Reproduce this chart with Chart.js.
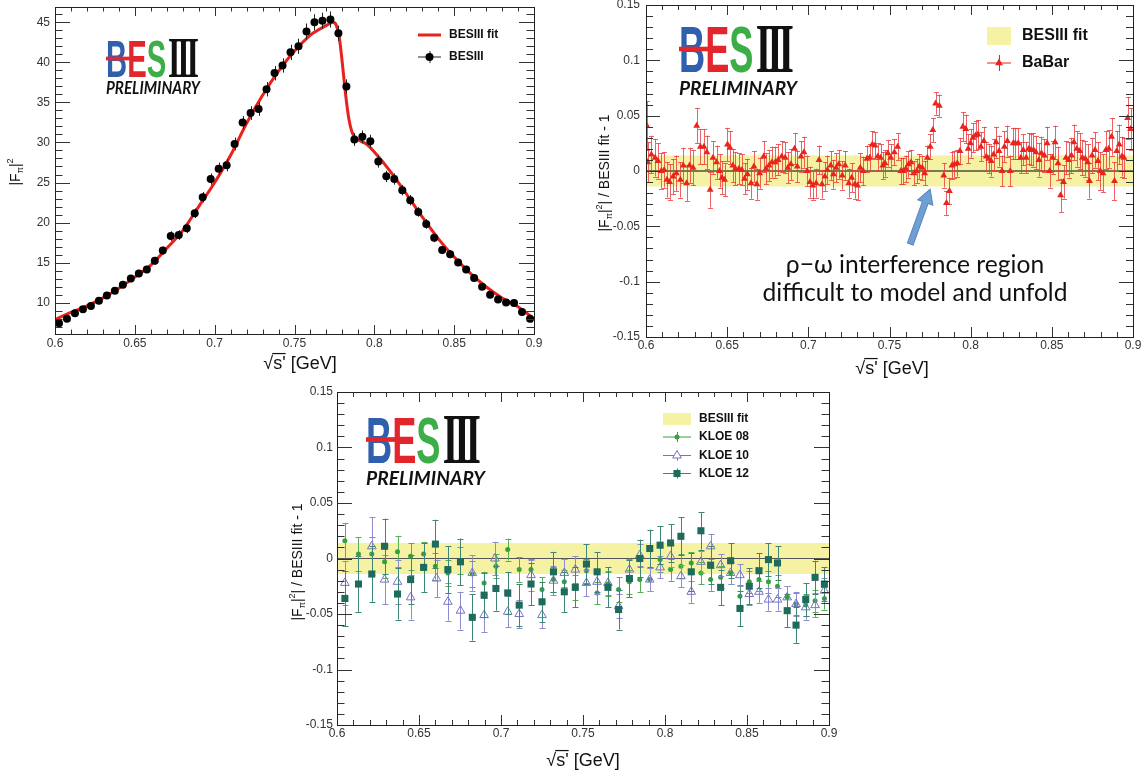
<!DOCTYPE html>
<html>
<head>
<meta charset="utf-8">
<script src="https://cdn.jsdelivr.net/npm/chart.js@4.4.1/dist/chart.umd.min.js"></script>
<style>
  html, body { margin: 0; padding: 0; background: #fff; }
  body { width: 1148px; height: 771px; position: relative; overflow: hidden; }
  canvas { position: absolute; }
</style>
</head>
<body>
<canvas id="cFF" width="550" height="380" style="left:0;top:0"></canvas>
<canvas id="cBaBar" width="588" height="380" style="left:560px;top:0"></canvas>
<canvas id="cKloe" width="580" height="391" style="left:270px;top:380px"></canvas>
<script>
// ---- data ----
// top left: |F_pi|^2 from BESIII, bin centres in GeV
const besX = [0.6025, 0.6075, 0.6125, 0.6175, 0.6225, 0.6275, 0.6325, 0.6375, 0.6425, 0.6475,
              0.6525, 0.6575, 0.6625, 0.6675, 0.6725, 0.6775, 0.6825, 0.6875, 0.6925, 0.6975,
              0.7025, 0.7075, 0.7125, 0.7175, 0.7225, 0.7275, 0.7325, 0.7375, 0.7425, 0.7475,
              0.7525, 0.7575, 0.7625, 0.7675, 0.7725, 0.7775, 0.7825, 0.7875, 0.7925, 0.7975,
              0.8025, 0.8075, 0.8125, 0.8175, 0.8225, 0.8275, 0.8325, 0.8375, 0.8425, 0.8475,
              0.8525, 0.8575, 0.8625, 0.8675, 0.8725, 0.8775, 0.8825, 0.8875, 0.8925, 0.8975];
const besY = [7.45, 8.0, 8.7, 9.2, 9.6, 10.25, 10.9, 11.5, 12.25, 13.01,
              13.64, 14.14, 15.23, 16.52, 18.32, 18.45, 19.28, 21.17, 23.17, 25.43,
              26.73, 27.15, 29.82, 32.5, 33.67, 34.17, 36.64, 38.65, 39.61, 41.24,
              42.0, 43.84, 45.0, 45.2, 45.34, 43.63, 36.98, 30.37, 30.7, 30.16,
              27.61, 25.77, 25.43, 24.05, 22.8, 21.33, 19.83, 18.11, 16.57, 16.06,
              15.02, 14.14, 13.09, 12.0, 11.0, 10.4, 10.04, 9.96, 8.84, 8.0];
const besErr = [0.35, 0.35, 0.35, 0.35, 0.35, 0.4, 0.4, 0.4, 0.4, 0.45,
                0.45, 0.45, 0.5, 0.5, 0.6, 0.6, 0.6, 0.6, 0.65, 0.7,
                0.75, 0.75, 0.8, 0.8, 0.85, 0.85, 0.9, 0.9, 0.9, 0.95,
                0.95, 1.0, 1.0, 1.0, 1.0, 0.95, 0.9, 0.8, 0.8, 0.8,
                0.75, 0.7, 0.7, 0.65, 0.65, 0.6, 0.6, 0.55, 0.5, 0.5,
                0.45, 0.45, 0.45, 0.4, 0.4, 0.4, 0.4, 0.4, 0.35, 0.35];
// red fit curve
const fitX = [0.600, 0.610, 0.620, 0.630, 0.640, 0.650, 0.660, 0.670, 0.680, 0.690,
              0.700, 0.710, 0.720, 0.730, 0.740, 0.750, 0.760, 0.770, 0.774, 0.776,
              0.778, 0.780, 0.782, 0.784, 0.786, 0.788, 0.790, 0.795, 0.800, 0.810,
              0.820, 0.830, 0.840, 0.850, 0.860, 0.870, 0.880, 0.890, 0.900];
const fitY = [7.9, 8.8, 9.6, 10.6, 11.8, 13.2, 14.7, 16.8, 19.0, 22.0,
              25.0, 28.4, 32.4, 35.9, 38.9, 41.4, 43.4, 44.6, 45.0, 44.7,
              43.2, 39.8, 36.0, 33.0, 31.3, 30.6, 30.3, 29.8, 28.8, 26.4,
              23.6, 20.7, 18.0, 15.7, 13.7, 12.0, 10.6, 9.5, 8.0];

// top right: BaBar / BESIII fit - 1, as [x, y, error]
const babarPts = [
  [0.6005, 0.041, 0.022], [0.6011, 0.008, 0.018], [0.6033, 0.015, 0.017], [0.6056, 0.012, 0.017],
  [0.6074, 0.009, 0.016], [0.6094, 0.000, 0.016], [0.6112, 0.001, 0.016], [0.6129, -0.008, 0.016],
  [0.6145, -0.010, 0.016], [0.6167, -0.005, 0.016], [0.6187, -0.002, 0.016], [0.6212, -0.008, 0.016],
  [0.6230, 0.005, 0.016], [0.6250, -0.011, 0.016], [0.6268, 0.005, 0.016], [0.6290, 0.003, 0.016],
  [0.6312, 0.041, 0.016], [0.6335, 0.022, 0.016], [0.6357, 0.022, 0.016], [0.6375, 0.017, 0.015],
  [0.6395, -0.017, 0.016], [0.6413, 0.012, 0.015], [0.6435, 0.008, 0.015], [0.6453, 0.000, 0.015],
  [0.6468, -0.006, 0.015], [0.6484, -0.008, 0.015], [0.6502, 0.024, 0.015], [0.6517, 0.021, 0.015],
  [0.6535, 0.005, 0.015], [0.6551, 0.002, 0.015], [0.6573, 0.002, 0.014], [0.6591, 0.001, 0.014],
  [0.6607, -0.007, 0.014], [0.6625, -0.003, 0.014], [0.6647, -0.011, 0.014], [0.6665, 0.004, 0.014],
  [0.6683, -0.012, 0.014], [0.6700, -0.002, 0.014], [0.6725, 0.013, 0.014], [0.6740, 0.002, 0.014],
  [0.6758, 0.005, 0.014], [0.6776, 0.008, 0.014], [0.6796, 0.008, 0.014], [0.6814, 0.010, 0.014],
  [0.6836, 0.013, 0.014], [0.6857, 0.012, 0.014], [0.6874, 0.003, 0.014], [0.6892, 0.006, 0.014],
  [0.6915, 0.020, 0.014], [0.6932, 0.004, 0.014], [0.6955, 0.013, 0.014], [0.6973, 0.017, 0.014],
  [0.6993, 0.000, 0.014], [0.7010, -0.010, 0.014], [0.7028, -0.013, 0.013], [0.7048, -0.011, 0.013],
  [0.7066, 0.010, 0.013], [0.7084, -0.012, 0.013], [0.7102, -0.005, 0.013], [0.7117, 0.001, 0.013],
  [0.7138, 0.005, 0.013], [0.7155, -0.003, 0.013], [0.7171, 0.003, 0.013], [0.7187, 0.006, 0.013],
  [0.7209, -0.004, 0.013], [0.7227, 0.005, 0.013], [0.7249, -0.011, 0.013], [0.7267, -0.006, 0.013],
  [0.7287, -0.012, 0.013], [0.7303, -0.013, 0.013], [0.7320, 0.003, 0.013], [0.7338, 0.000, 0.013],
  [0.7361, 0.011, 0.012], [0.7378, 0.012, 0.012], [0.7394, 0.024, 0.012], [0.7410, 0.023, 0.012],
  [0.7428, 0.013, 0.012], [0.7445, 0.012, 0.012], [0.7459, 0.005, 0.012], [0.7472, 0.007, 0.012],
  [0.7490, 0.016, 0.012], [0.7508, 0.012, 0.012], [0.7530, 0.017, 0.012], [0.7550, 0.022, 0.012],
  [0.7570, 0.000, 0.012], [0.7584, 0.000, 0.012], [0.7601, 0.002, 0.012], [0.7617, 0.006, 0.012],
  [0.7633, 0.008, 0.011], [0.7651, -0.002, 0.011], [0.7668, 0.000, 0.011], [0.7684, 0.004, 0.011],
  [0.7702, 0.003, 0.011], [0.7717, -0.002, 0.011], [0.7733, 0.012, 0.011], [0.7751, 0.022, 0.011],
  [0.7767, 0.037, 0.011], [0.7784, 0.061, 0.010], [0.7807, 0.059, 0.010], [0.7834, -0.004, 0.011],
  [0.7851, -0.029, 0.011], [0.7869, -0.018, 0.012], [0.7885, 0.005, 0.012], [0.7900, 0.006, 0.012],
  [0.7918, 0.007, 0.012], [0.7934, 0.018, 0.012], [0.7952, 0.040, 0.013], [0.7970, 0.038, 0.013],
  [0.7985, 0.020, 0.013], [0.7999, 0.025, 0.013], [0.8014, 0.030, 0.013], [0.8030, 0.032, 0.013],
  [0.8045, 0.033, 0.013], [0.8063, 0.022, 0.013], [0.8081, 0.027, 0.013], [0.8097, 0.013, 0.013],
  [0.8112, 0.011, 0.013], [0.8126, 0.009, 0.014], [0.8141, 0.015, 0.014], [0.8157, 0.026, 0.014],
  [0.8175, 0.018, 0.014], [0.8193, 0.000, 0.014], [0.8208, 0.022, 0.014], [0.8226, 0.027, 0.014],
  [0.8244, 0.000, 0.014], [0.8262, 0.025, 0.014], [0.8275, 0.025, 0.014], [0.8293, 0.025, 0.014],
  [0.8309, 0.012, 0.014], [0.8324, 0.019, 0.014], [0.8342, 0.012, 0.014], [0.8358, 0.020, 0.014],
  [0.8371, 0.019, 0.014], [0.8387, 0.019, 0.015], [0.8402, 0.017, 0.015], [0.8420, 0.010, 0.015],
  [0.8436, 0.016, 0.015], [0.8454, 0.014, 0.015], [0.8471, 0.025, 0.015], [0.8487, 0.000, 0.015],
  [0.8505, 0.012, 0.015], [0.8520, 0.026, 0.015], [0.8538, 0.007, 0.015], [0.8554, -0.022, 0.015],
  [0.8572, -0.010, 0.015], [0.8587, 0.012, 0.015], [0.8603, 0.010, 0.016], [0.8621, 0.014, 0.016],
  [0.8636, 0.026, 0.016], [0.8654, 0.020, 0.016], [0.8672, 0.018, 0.016], [0.8688, 0.012, 0.016],
  [0.8706, 0.011, 0.016], [0.8721, 0.008, 0.016], [0.8732, -0.009, 0.016], [0.8748, 0.014, 0.016],
  [0.8766, 0.019, 0.016], [0.8784, 0.009, 0.017], [0.8799, 0.000, 0.017], [0.8815, -0.002, 0.017],
  [0.8833, 0.019, 0.017], [0.8851, 0.020, 0.017], [0.8868, 0.031, 0.017], [0.8886, -0.009, 0.017],
  [0.8900, 0.018, 0.018], [0.8915, 0.024, 0.018], [0.8931, 0.013, 0.018], [0.8944, 0.012, 0.018],
  [0.8967, 0.048, 0.019], [0.8985, 0.038, 0.019]
];

// bottom: KLOE / BESIII fit - 1, as [x, y, error]
const kloe08Pts = [
  [0.6048, 0.016, 0.016], [0.6131, 0.004, 0.015], [0.6212, 0.004, 0.015], [0.6290, -0.003, 0.015],
  [0.6369, 0.006, 0.014], [0.6449, 0.002, 0.012], [0.6528, 0.004, 0.011], [0.6600, -0.007, 0.012],
  [0.6676, -0.013, 0.012], [0.6753, -0.002, 0.012], [0.6825, -0.014, 0.012], [0.6897, -0.022, 0.010],
  [0.6969, -0.007, 0.011], [0.7041, 0.008, 0.010], [0.7111, -0.010, 0.011], [0.7183, -0.010, 0.010],
  [0.7250, -0.028, 0.011], [0.7320, -0.019, 0.011], [0.7386, -0.021, 0.011], [0.7453, -0.026, 0.011],
  [0.7521, -0.011, 0.011], [0.7586, -0.031, 0.010], [0.7652, -0.023, 0.011], [0.7717, -0.028, 0.011],
  [0.7783, -0.021, 0.011], [0.7846, -0.019, 0.011], [0.7907, -0.019, 0.010], [0.7970, -0.001, 0.011],
  [0.8034, -0.010, 0.010], [0.8097, -0.007, 0.011], [0.8160, -0.004, 0.010], [0.8219, -0.013, 0.010],
  [0.8278, -0.019, 0.010], [0.8339, -0.017, 0.010], [0.8400, -0.013, 0.010], [0.8457, -0.034, 0.010],
  [0.8514, -0.021, 0.010], [0.8573, -0.019, 0.010], [0.8631, -0.021, 0.010], [0.8686, -0.025, 0.010],
  [0.8745, -0.035, 0.010], [0.8799, -0.041, 0.010], [0.8858, -0.042, 0.010], [0.8915, -0.038, 0.010],
  [0.8972, -0.036, 0.010]
];
const kloe10Pts = [
  [0.6048, -0.022, 0.020], [0.6212, 0.011, 0.026], [0.6290, -0.019, 0.022], [0.6369, -0.021, 0.020],
  [0.6449, -0.035, 0.020], [0.6607, -0.018, 0.017], [0.6676, -0.039, 0.017], [0.6753, -0.047, 0.017],
  [0.6825, -0.013, 0.016], [0.6897, -0.051, 0.015], [0.6963, 0.000, 0.015], [0.7041, -0.048, 0.014],
  [0.7111, -0.050, 0.013], [0.7183, -0.015, 0.014], [0.7250, -0.051, 0.012], [0.7320, -0.020, 0.013],
  [0.7386, -0.013, 0.013], [0.7453, -0.010, 0.012], [0.7521, -0.022, 0.012], [0.7586, -0.021, 0.011],
  [0.7652, -0.022, 0.011], [0.7717, -0.043, 0.011], [0.7783, -0.010, 0.010], [0.7846, 0.003, 0.010],
  [0.7907, -0.019, 0.010], [0.7970, -0.008, 0.010], [0.8034, 0.002, 0.010], [0.8097, -0.016, 0.010],
  [0.8160, -0.030, 0.010], [0.8219, -0.003, 0.010], [0.8278, 0.011, 0.011], [0.8339, -0.006, 0.010],
  [0.8400, -0.013, 0.010], [0.8457, -0.015, 0.010], [0.8514, -0.032, 0.010], [0.8573, -0.030, 0.010],
  [0.8631, -0.037, 0.010], [0.8686, -0.037, 0.010], [0.8745, -0.035, 0.010], [0.8799, -0.041, 0.011],
  [0.8858, -0.044, 0.011], [0.8915, -0.042, 0.011], [0.8972, -0.029, 0.011]
];
const kloe12Pts = [
  [0.6048, -0.036, 0.025], [0.6131, -0.023, 0.025], [0.6212, -0.014, 0.025], [0.6290, 0.011, 0.025],
  [0.6369, -0.032, 0.023], [0.6449, -0.019, 0.022], [0.6528, -0.008, 0.022], [0.6600, 0.013, 0.022],
  [0.6676, -0.010, 0.021], [0.6753, -0.003, 0.021], [0.6825, -0.053, 0.021], [0.6897, -0.033, 0.020],
  [0.6969, -0.027, 0.020], [0.7041, -0.031, 0.019], [0.7111, -0.042, 0.019], [0.7183, -0.023, 0.019],
  [0.7250, -0.039, 0.018], [0.7320, -0.012, 0.018], [0.7386, -0.030, 0.018], [0.7453, -0.026, 0.018],
  [0.7521, -0.005, 0.018], [0.7586, -0.012, 0.018], [0.7652, -0.026, 0.018], [0.7717, -0.046, 0.018],
  [0.7783, -0.018, 0.017], [0.7846, 0.000, 0.017], [0.7907, 0.009, 0.017], [0.7970, 0.012, 0.017],
  [0.8034, 0.014, 0.017], [0.8097, 0.020, 0.017], [0.8160, -0.012, 0.017], [0.8219, 0.025, 0.017],
  [0.8278, -0.006, 0.017], [0.8339, -0.026, 0.016], [0.8400, -0.002, 0.016], [0.8457, -0.045, 0.016],
  [0.8514, -0.025, 0.016], [0.8573, -0.011, 0.016], [0.8631, -0.001, 0.015], [0.8686, -0.004, 0.015],
  [0.8745, -0.047, 0.015], [0.8799, -0.060, 0.016], [0.8858, -0.037, 0.015], [0.8915, -0.017, 0.015],
  [0.8972, -0.023, 0.015]
];

// yellow BESIII fit uncertainty band and the zero line
const bandX = [0.6, 0.9];
const bandHalf = 0.014;
const zeroY = 0;

// arrow in the BaBar panel (data coordinates)
const arrowFrom = { x: 0.7628, y: -0.066 };
const arrowTo = { x: 0.775, y: -0.0165 };

const FONT = '"Liberation Sans", Arial, sans-serif';
Chart.defaults.font.family = FONT;

const triples = pts => pts.map(p => ({ x: p[0], y: p[1], e: p[2] }));
const fmt = v => String(+Number(v).toFixed(3));

// ---- drawing helpers ----
function drawRich(ctx, parts, cx, cy, size, rotate) {
  ctx.save();
  ctx.translate(cx, cy);
  if (rotate) ctx.rotate(-Math.PI / 2);
  const fontOf = p => ((p.sub || p.sup) ? Math.round(size * 0.65) : size) + 'px ' + FONT;
  let total = 0;
  parts.forEach(p => { ctx.font = fontOf(p); p.w = ctx.measureText(p.t).width; total += p.w; });
  let xx = -total / 2;
  ctx.textBaseline = 'middle';
  ctx.textAlign = 'left';
  ctx.fillStyle = '#111';
  ctx.strokeStyle = '#111';
  parts.forEach(p => {
    ctx.font = fontOf(p);
    const dy = p.sub ? size * 0.35 : (p.sup ? -size * 0.38 : 0);
    ctx.fillText(p.t, xx, dy);
    if (p.over) {
      ctx.lineWidth = 1.2;
      ctx.beginPath();
      ctx.moveTo(xx - 1, -size * 0.58);
      ctx.lineTo(xx + p.w, -size * 0.58);
      ctx.stroke();
    }
    xx += p.w;
  });
  ctx.restore();
}

function drawLogo(ctx, lg) {
  const segs = [
    { t: 'B', c: '#2f5fad', f: 'bold 64px ' + FONT },
    { t: 'E', c: '#e3262b', f: 'bold 64px ' + FONT },
    { t: 'S', c: '#3cae47', f: 'bold 64px ' + FONT },
    { t: 'III', c: '#111', f: 'bold 70px "Liberation Serif", serif', ls: -7 }
  ];
  let total = 0, capH = 0;
  segs.forEach(s => {
    ctx.font = s.f;
    const m = ctx.measureText(s.t);
    s.cw = ctx.measureText('I').width;
    s.w = m.width + (s.ls ? s.ls * (s.t.length - 1) : 0);
    s.a = m.actualBoundingBoxAscent;
    total += s.w;
    capH = Math.max(capH, s.a);
  });
  total += 4;
  ctx.save();
  ctx.translate(lg.x, lg.y + lg.h);
  ctx.scale(lg.w / total, lg.h / capH);
  ctx.textBaseline = 'alphabetic';
  ctx.textAlign = 'left';
  let xx = 0;
  segs.forEach((s, i) => {
    ctx.font = s.f;
    ctx.fillStyle = s.c;
    if (i === 3) xx += 4;
    if (s.ls) {
      for (let k = 0; k < s.t.length; k++) ctx.fillText(s.t[k], xx + k * (s.cw + s.ls), 0);
    } else {
      ctx.fillText(s.t, xx, 0);
    }
    xx += s.w;
  });
  ctx.fillStyle = '#e3262b';
  ctx.fillRect(0, -capH * 0.55, segs[0].w + segs[1].w * 0.75, capH * 0.1);
  ctx.restore();

  // PRELIMINARY below
  ctx.save();
  ctx.font = 'italic bold 20px Lato, ' + FONT;
  const m = ctx.measureText('PRELIMINARY');
  ctx.translate(lg.px, lg.py + lg.ph);
  ctx.scale(lg.pw / m.width, lg.ph / m.actualBoundingBoxAscent);
  ctx.fillStyle = '#111';
  ctx.textBaseline = 'alphabetic';
  ctx.fillText('PRELIMINARY', 0, 0);
  ctx.restore();
}

function drawLegend(ctx, L) {
  ctx.save();
  L.items.forEach(it => {
    const mid = (L.x0 + L.x1) / 2;
    if (it.box) {
      ctx.fillStyle = it.box;
      ctx.fillRect(L.x0, it.y - it.h / 2, L.x1 - L.x0, it.h);
    }
    if (it.line) {
      ctx.strokeStyle = it.line;
      ctx.lineWidth = it.lw || 1;
      ctx.beginPath();
      ctx.moveTo(L.x0, it.y);
      ctx.lineTo(L.x1, it.y);
      ctx.stroke();
    }
    if (it.err) {
      ctx.strokeStyle = it.line;
      ctx.lineWidth = 1;
      ctx.beginPath();
      ctx.moveTo(mid + 0.5, it.y - it.err);
      ctx.lineTo(mid + 0.5, it.y + it.err);
      ctx.stroke();
    }
    if (it.point) {
      ctx.fillStyle = it.point.bg;
      ctx.strokeStyle = it.point.border;
      ctx.lineWidth = it.point.borderWidth || 1;
      Chart.helpers.drawPoint(ctx, it.point, mid, it.y);
    }
    ctx.fillStyle = '#111';
    ctx.font = 'bold ' + L.size + 'px ' + FONT;
    ctx.textBaseline = 'middle';
    ctx.textAlign = 'left';
    ctx.fillText(it.label, L.tx, it.y);
  });
  ctx.restore();
}

// ROOT-like frame with inward ticks on all four sides
const rootFrame = {
  id: 'rootFrame',
  afterDatasetsDraw(chart, args, o) {
    const { ctx, chartArea: a } = chart;
    const xs = chart.scales.x, ys = chart.scales.y;
    ctx.save();
    ctx.strokeStyle = '#333';
    ctx.lineWidth = 1;
    const run = (scale, minor, major, cb) => {
      const start = Math.ceil(scale.min / minor - 1e-6);
      const end = Math.floor(scale.max / minor + 1e-6);
      for (let i = start; i <= end; i++) {
        const v = i * minor;
        const r = v / major;
        cb(Math.round(scale.getPixelForValue(v)) + 0.5, Math.abs(r - Math.round(r)) < 1e-6);
      }
    };
    ctx.beginPath();
    run(xs, o.xMinor, o.xMajor, (px, maj) => {
      const l = maj ? o.xLen : o.xLen / 2;
      ctx.moveTo(px, a.bottom); ctx.lineTo(px, a.bottom - l);
      ctx.moveTo(px, a.top); ctx.lineTo(px, a.top + l);
    });
    run(ys, o.yMinor, o.yMajor, (py, maj) => {
      const l = maj ? o.yLen : o.yLen / 2;
      ctx.moveTo(a.left, py); ctx.lineTo(a.left + l, py);
      ctx.moveTo(a.right, py); ctx.lineTo(a.right - l, py);
    });
    ctx.stroke();
    ctx.strokeStyle = '#222';
    ctx.strokeRect(Math.round(a.left) + 0.5, Math.round(a.top) + 0.5,
                   Math.round(a.right - a.left), Math.round(a.bottom - a.top));
    ctx.restore();
  }
};

// vertical error bars, drawn just before each point dataset
const errBars = {
  id: 'errBars',
  beforeDatasetDraw(chart, args) {
    const ds = chart.data.datasets[args.index];
    if (!ds.errColor) return;
    const { ctx, chartArea: a } = chart;
    const xs = chart.scales.x, ys = chart.scales.y;
    ctx.save();
    ctx.beginPath();
    ctx.rect(a.left, a.top, a.right - a.left, a.bottom - a.top);
    ctx.clip();
    ctx.strokeStyle = ds.errColor;
    ctx.lineWidth = 1;
    ctx.beginPath();
    ds.data.forEach(p => {
      const px = Math.round(xs.getPixelForValue(p.x)) + 0.5;
      const y1 = ys.getPixelForValue(p.y - p.e);
      const y2 = ys.getPixelForValue(p.y + p.e);
      ctx.moveTo(px, y1); ctx.lineTo(px, y2);
      if (ds.cap) {
        ctx.moveTo(px - ds.cap, Math.round(y1) + 0.5); ctx.lineTo(px + ds.cap, Math.round(y1) + 0.5);
        ctx.moveTo(px - ds.cap, Math.round(y2) + 0.5); ctx.lineTo(px + ds.cap, Math.round(y2) + 0.5);
      }
    });
    ctx.stroke();
    ctx.restore();
  }
};

// titles, logo, legend, annotation
const decor = {
  id: 'decor',
  afterDraw(chart, args, o) {
    const ctx = chart.ctx;
    if (o.logo) drawLogo(ctx, o.logo);
    if (o.legend) drawLegend(ctx, o.legend);
    drawRich(ctx, [{ t: '\u221A' }, { t: "s'", over: true }, { t: ' [GeV]' }], o.xt.x, o.xt.y, 18, false);
    drawRich(ctx, o.yt.parts, o.yt.x, o.yt.y, 14, true);
    if (o.anno) {
      const xs = chart.scales.x, ys = chart.scales.y;
      const x0 = xs.getPixelForValue(arrowFrom.x), y0 = ys.getPixelForValue(arrowFrom.y);
      const x1 = xs.getPixelForValue(arrowTo.x), y1 = ys.getPixelForValue(arrowTo.y);
      const ang = Math.atan2(y1 - y0, x1 - x0);
      const len = Math.hypot(x1 - x0, y1 - y0);
      ctx.save();
      ctx.translate(x0, y0);
      ctx.rotate(ang);
      ctx.beginPath();
      ctx.moveTo(0, -3);
      ctx.lineTo(len - 14, -3);
      ctx.lineTo(len - 14, -8);
      ctx.lineTo(len, 0);
      ctx.lineTo(len - 14, 8);
      ctx.lineTo(len - 14, 3);
      ctx.lineTo(0, 3);
      ctx.closePath();
      ctx.fillStyle = '#6f9fd4';
      ctx.fill();
      ctx.strokeStyle = '#5585bd';
      ctx.lineWidth = 1;
      ctx.stroke();
      ctx.restore();

      ctx.save();
      ctx.fillStyle = '#111';
      ctx.textAlign = 'center';
      ctx.textBaseline = 'alphabetic';
      ctx.font = '22px Lato, ' + FONT;
      const w2 = ctx.measureText(o.anno.lines[1]).width;
      const size = 22 * o.anno.w2 / w2;
      ctx.font = size.toFixed(2) + 'px Lato, ' + FONT;
      ctx.fillText(o.anno.lines[0], o.anno.cx, o.anno.b1);
      ctx.fillText(o.anno.lines[1], o.anno.cx, o.anno.b2);
      ctx.restore();
    }
  }
};

function scalesFor(cfg) {
  return {
    x: {
      type: 'linear', min: 0.6, max: 0.9,
      grid: { display: false, drawTicks: false }, border: { display: false },
      ticks: { stepSize: 0.05, padding: cfg.xPad, autoSkip: false, maxRotation: 0,
               color: '#333', font: { size: 12 }, callback: fmt },
      afterFit(s) { s.height = cfg.xH; s.paddingLeft = 0; s.paddingRight = 0; }
    },
    y: {
      type: 'linear', min: cfg.yMin, max: cfg.yMax,
      grid: { display: false, drawTicks: false }, border: { display: false },
      ticks: { stepSize: cfg.yStep, padding: cfg.yPad, includeBounds: false,
               color: '#333', font: { size: 12 }, callback: fmt },
      afterFit(s) { s.width = cfg.yW; s.paddingTop = 0; s.paddingBottom = 0; }
    }
  };
}

const common = {
  responsive: false, maintainAspectRatio: false, animation: false,
  devicePixelRatio: 1, events: []
};

const yTitleRatio = [{ t: '|F' }, { t: '\u03C0', sub: true }, { t: '|' }, { t: '2', sup: true },
                     { t: '| / BESIII fit - 1' }];

// ---- top left: |F_pi|^2 ----
new Chart(document.getElementById('cFF'), {
  type: 'scatter',
  data: {
    datasets: [
      {
        label: 'BESIII',
        data: besX.map((x, i) => ({ x: x, y: besY[i], e: besErr[i] })),
        pointStyle: 'circle', pointRadius: 4, backgroundColor: '#000', borderWidth: 0,
        errColor: '#222', order: 1
      },
      {
        label: 'BESIII fit',
        data: fitX.map((x, i) => ({ x: x, y: fitY[i] })),
        showLine: true, pointRadius: 0, borderColor: '#e8211c', borderWidth: 3,
        cubicInterpolationMode: 'monotone', order: 2
      }
    ]
  },
  options: Object.assign({}, common, {
    layout: { padding: { left: 0, top: 7, right: 16, bottom: 0 } },
    scales: scalesFor({ xPad: 2, xH: 46, yMin: 6.1, yMax: 46.9, yStep: 5, yPad: 5, yW: 55 }),
    plugins: {
      legend: { display: false }, tooltip: { enabled: false },
      rootFrame: { xMinor: 0.01, xMajor: 0.05, xLen: 9, yMinor: 1, yMajor: 5, yLen: 15 },
      decor: {
        logo: { x: 106, y: 40, w: 93, h: 37, px: 106, py: 81, pw: 94, ph: 12.5 },
        legend: {
          x0: 418, x1: 441, tx: 449, size: 12,
          items: [
            { label: 'BESIII fit', y: 35, line: '#e8211c', lw: 3 },
            { label: 'BESIII', y: 57, line: '#222', err: 6,
              point: { pointStyle: 'circle', radius: 4, bg: '#000', border: '#000', borderWidth: 0 } }
          ]
        },
        xt: { x: 300, y: 364 },
        yt: { x: 16, y: 172, parts: [{ t: '|F' }, { t: '\u03C0', sub: true }, { t: '|' }, { t: '2', sup: true }] }
      }
    }
  }),
  plugins: [errBars, rootFrame, decor]
});

// ---- top right: BaBar ratio ----
new Chart(document.getElementById('cBaBar'), {
  type: 'scatter',
  data: {
    datasets: [
      {
        label: 'BaBar', data: triples(babarPts),
        pointStyle: 'triangle', pointRadius: 4, backgroundColor: '#e8241f', borderWidth: 0,
        errColor: 'rgba(232,60,60,0.8)', cap: 2.5, order: 1
      },
      {
        label: 'zero', data: bandX.map(x => ({ x: x, y: zeroY })),
        showLine: true, pointRadius: 0, borderColor: '#000', borderWidth: 1, order: 4
      },
      {
        label: 'BESIII fit', data: bandX.map(x => ({ x: x, y: bandHalf })),
        showLine: true, pointRadius: 0, borderWidth: 0, fill: '+1',
        backgroundColor: '#f5f2a3', order: 5
      },
      {
        label: 'band low', data: bandX.map(x => ({ x: x, y: -bandHalf })),
        showLine: true, pointRadius: 0, borderWidth: 0, fill: false, order: 5
      }
    ]
  },
  options: Object.assign({}, common, {
    layout: { padding: { left: 0, top: 5, right: 15, bottom: 0 } },
    scales: scalesFor({ xPad: 1, xH: 43, yMin: -0.15, yMax: 0.15, yStep: 0.05, yPad: 6, yW: 86 }),
    plugins: {
      legend: { display: false }, tooltip: { enabled: false },
      rootFrame: { xMinor: 0.01, xMajor: 0.05, xLen: 10, yMinor: 0.01, yMajor: 0.05, yLen: 14 },
      decor: {
        logo: { x: 119, y: 26, w: 115, h: 46, px: 119, py: 81, pw: 118, ph: 14 },
        legend: {
          x0: 427, x1: 451, tx: 462, size: 16,
          items: [
            { label: 'BESIII fit', y: 36, box: '#f5f2a3', h: 18 },
            { label: 'BaBar', y: 63, line: '#e8241f', err: 8,
              point: { pointStyle: 'triangle', radius: 4.5, bg: '#e8241f', border: '#e8241f', borderWidth: 0 } }
          ]
        },
        xt: { x: 332, y: 369 },
        yt: { x: 45, y: 173, parts: yTitleRatio },
        anno: {
          lines: ['\u03C1\u2212\u03C9 interference region', 'difficult to model and unfold'],
          cx: 355, b1: 273, b2: 301, w2: 305
        }
      }
    }
  }),
  plugins: [errBars, rootFrame, decor]
});

// ---- bottom: KLOE ratios ----
new Chart(document.getElementById('cKloe'), {
  type: 'scatter',
  data: {
    datasets: [
      {
        label: 'KLOE 12', data: triples(kloe12Pts),
        pointStyle: 'rect', pointRadius: 5, backgroundColor: '#1e6b5c', borderWidth: 0,
        errColor: '#3d8577', cap: 3, order: 1
      },
      {
        label: 'KLOE 10', data: triples(kloe10Pts),
        pointStyle: 'triangle', pointRadius: 5, backgroundColor: 'rgba(255,255,255,0)',
        borderColor: '#7474c4', borderWidth: 1, errColor: '#8c8cd0', cap: 3, order: 2
      },
      {
        label: 'KLOE 08', data: triples(kloe08Pts),
        pointStyle: 'circle', pointRadius: 2.5, backgroundColor: '#35a13a', borderWidth: 0,
        errColor: '#55b055', cap: 3, order: 3
      },
      {
        label: 'zero', data: bandX.map(x => ({ x: x, y: zeroY })),
        showLine: true, pointRadius: 0, borderColor: '#555', borderWidth: 1, order: 4
      },
      {
        label: 'BESIII fit', data: bandX.map(x => ({ x: x, y: bandHalf })),
        showLine: true, pointRadius: 0, borderWidth: 0, fill: '+1',
        backgroundColor: '#f5f2a3', order: 5
      },
      {
        label: 'band low', data: bandX.map(x => ({ x: x, y: -bandHalf })),
        showLine: true, pointRadius: 0, borderWidth: 0, fill: false, order: 5
      }
    ]
  },
  options: Object.assign({}, common, {
    layout: { padding: { left: 0, top: 12, right: 21, bottom: 0 } },
    scales: scalesFor({ xPad: 1, xH: 46, yMin: -0.15, yMax: 0.15, yStep: 0.05, yPad: 4, yW: 67 }),
    plugins: {
      legend: { display: false }, tooltip: { enabled: false },
      rootFrame: { xMinor: 0.01, xMajor: 0.05, xLen: 10, yMinor: 0.01, yMajor: 0.05, yLen: 15 },
      decor: {
        logo: { x: 96, y: 36, w: 115, h: 47, px: 96, py: 91, pw: 119, ph: 14 },
        legend: {
          x0: 393, x1: 421, tx: 429, size: 12,
          items: [
            { label: 'BESIII fit', y: 39, box: '#f5f2a3', h: 12 },
            { label: 'KLOE 08', y: 57, line: '#35a13a', err: 5,
              point: { pointStyle: 'circle', radius: 2.5, bg: '#35a13a', border: '#35a13a', borderWidth: 0 } },
            { label: 'KLOE 10', y: 75.5, line: '#7474c4', err: 5,
              point: { pointStyle: 'triangle', radius: 5, bg: '#fff', border: '#7474c4', borderWidth: 1 } },
            { label: 'KLOE 12', y: 93.5, line: '#3d8577', err: 5,
              point: { pointStyle: 'rect', radius: 5, bg: '#1e6b5c', border: '#1e6b5c', borderWidth: 0 } }
          ]
        },
        xt: { x: 313, y: 381 },
        yt: { x: 28, y: 182, parts: yTitleRatio }
      }
    }
  }),
  plugins: [errBars, rootFrame, decor]
});
</script>
</body>
</html>
